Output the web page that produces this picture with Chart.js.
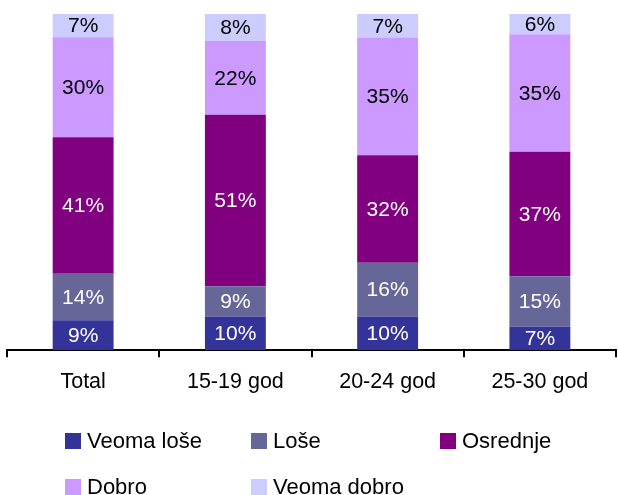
<!DOCTYPE html>
<html>
<head>
<meta charset="utf-8">
<script src="https://cdn.jsdelivr.net/npm/chart.js@4/dist/chart.umd.min.js"></script>
<style>
  html, body { margin: 0; padding: 0; background: #fff; }
  body { width: 618px; height: 495px; position: relative; overflow: hidden;
         font-family: "Liberation Sans", Arial, sans-serif; }
  #wrap { position: absolute; left: 0; top: 0; width: 618px; height: 407px; }
  #legend { position: absolute; left: 0; top: 0; width: 618px; height: 495px; pointer-events: none; }
  .item { position: absolute; display: flex; align-items: center; font-size: 22px; line-height: 24px; color: #000; white-space: nowrap; }
  .box { width: 16px; height: 16px; margin-right: 6px; }
</style>
</head>
<body>
<div id="wrap"><canvas id="chart"></canvas></div>
<div id="legend"></div>
<script>
// categories and series (percent labels as printed on the bars)
const categories = ['Total', '15-19 god', '20-24 god', '25-30 god'];
const seriesNames = ['Veoma loše', 'Loše', 'Osrednje', 'Dobro', 'Veoma dobro'];
const veomaLose  = [9, 10, 10, 7];
const lose       = [14, 9, 16, 15];
const osrednje   = [41, 51, 32, 37];
const dobro      = [30, 22, 35, 35];
const veomaDobro = [7, 8, 7, 6];
const seriesColors = ['#333399', '#666699', '#800080', '#CC99FF', '#CCCCFF'];
const labelColors  = ['#ffffff', '#ffffff', '#ffffff', '#000000', '#000000'];

const seriesValues = [veomaLose, lose, osrednje, dobro, veomaDobro];

// 100% stacked: scale each column by its own total
const totals = categories.map((c, i) => seriesValues.reduce((s, arr) => s + arr[i], 0));

const datasets = seriesNames.map((name, idx) => ({
    label: name,
    raw: seriesValues[idx],
    data: seriesValues[idx].map((v, i) => v / totals[i] * 100),
    backgroundColor: seriesColors[idx],
    borderWidth: 0,
    barPercentage: 0.4,
    categoryPercentage: 1.0
}));

// draws the percent text in the middle of each segment
const barLabels = {
    id: 'barLabels',
    afterDatasetsDraw(chart) {
        const ctx = chart.ctx;
        ctx.save();
        ctx.font = '21px "Liberation Sans", Arial, sans-serif';
        ctx.textAlign = 'center';
        ctx.textBaseline = 'middle';
        chart.data.datasets.forEach((ds, di) => {
            const meta = chart.getDatasetMeta(di);
            meta.data.forEach((bar, i) => {
                const yMid = (bar.y + bar.base) / 2;
                ctx.fillStyle = labelColors[di];
                ctx.fillText(ds.raw[i] + '%', bar.x, yMid + 1);
            });
        });
        ctx.restore();
    }
};

new Chart(document.getElementById('chart'), {
    type: 'bar',
    data: { labels: categories, datasets: datasets },
    options: {
        responsive: true,
        maintainAspectRatio: false,
        animation: false,
        layout: { padding: { left: 7, right: 2, top: 14, bottom: 0 } },
        plugins: { legend: { display: false }, tooltip: { enabled: false } },
        scales: {
            x: {
                stacked: true,
                offset: true,
                grid: { display: true, drawOnChartArea: false, offset: true, color: '#000', tickColor: '#000', tickLength: 7, lineWidth: 2 },
                border: { display: true, color: '#000', width: 2 },
                ticks: { color: '#000', font: { size: 21.5, family: '"Liberation Sans", Arial, sans-serif' }, padding: 12, maxRotation: 0 }
            },
            y: {
                stacked: true,
                display: false,
                min: 0,
                max: 100
            }
        }
    },
    plugins: [barLabels]
});

// legend laid out in a 3-column grid like the original
const legendPos = [[65, 441], [251, 441], [440, 441], [65, 487], [251, 487]];
const legend = document.getElementById('legend');
seriesNames.forEach((name, idx) => {
    const el = document.createElement('div');
    el.className = 'item';
    el.style.left = legendPos[idx][0] + 'px';
    el.style.top = (legendPos[idx][1] - 12) + 'px';
    const box = document.createElement('span');
    box.className = 'box';
    box.style.background = seriesColors[idx];
    const txt = document.createElement('span');
    txt.textContent = name;
    el.appendChild(box);
    el.appendChild(txt);
    legend.appendChild(el);
});
</script>
</body>
</html>
